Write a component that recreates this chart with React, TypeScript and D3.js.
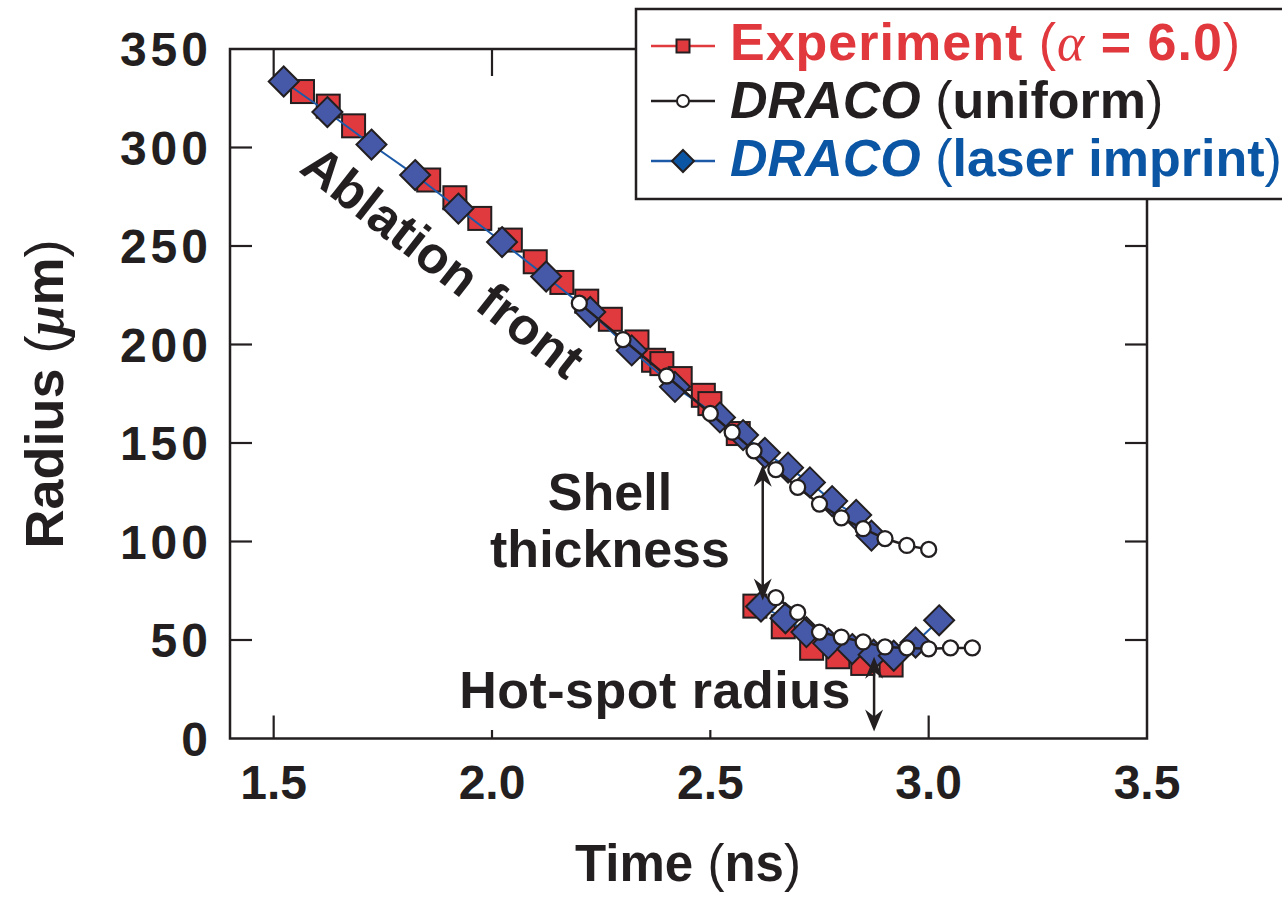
import React from 'react';
import * as d3 from 'd3';

type Pt = [number, number];

// Experiment (alpha = 6.0): ablation-front and hot-spot radii, [time ns, radius um]
const expAblation: Pt[] = [
  [1.566, 328.4], [1.625, 321], [1.683, 311], [1.855, 283.5], [1.915, 274.5],
  [1.972, 264], [2.042, 253], [2.099, 242], [2.16, 231.5], [2.217, 222],
  [2.271, 212.8], [2.332, 201.3], [2.37, 192], [2.389, 190.3], [2.431, 182.7],
  [2.484, 174.2], [2.499, 170], [2.564, 154.8],
];
const expHotSpot: Pt[] = [
  [2.602, 67.2], [2.667, 56.7], [2.732, 45.8], [2.792, 41.5], [2.849, 38.1], [2.914, 37.3],
];

// DRACO uniform
const uniformAblation: Pt[] = [
  [2.2, 221], [2.3, 202.5], [2.4, 184], [2.5, 165], [2.55, 155.5], [2.6, 146],
  [2.65, 136.5], [2.7, 127.5], [2.75, 119], [2.8, 112], [2.85, 106.5], [2.9, 101.5],
  [2.95, 98], [3.0, 96],
];
const uniformHotSpot: Pt[] = [
  [2.65, 71.5], [2.7, 64], [2.75, 54], [2.8, 51.5], [2.85, 49], [2.9, 46.5],
  [2.95, 46], [3.0, 45.5], [3.05, 46], [3.1, 46],
];

// DRACO laser imprint
const imprintAblation: Pt[] = [
  [1.523, 333.5], [1.623, 318], [1.724, 301.5], [1.824, 286], [1.923, 269],
  [2.023, 252], [2.124, 234.5], [2.225, 216.5], [2.32, 197], [2.419, 178.5],
  [2.522, 163], [2.575, 154], [2.625, 145], [2.678, 137.5], [2.728, 130],
  [2.779, 120.5], [2.834, 113.5], [2.869, 103],
];
const imprintHotSpot: Pt[] = [
  [2.616, 67], [2.672, 61], [2.72, 54], [2.77, 48.3], [2.825, 45.4],
  [2.874, 42.5], [2.92, 42], [2.97, 48.7], [3.024, 60],
];

const xTicks = [1.5, 2.0, 2.5, 3.0, 3.5];
const yTicks = [0, 50, 100, 150, 200, 250, 300, 350];

const FONT = "'Liberation Sans', Arial, Helvetica, sans-serif";
const SERIF = "'Liberation Serif', 'Times New Roman', serif";
const INK = '#231f20';
const RED = '#e03a3f';
const RED_TEXT = '#e0383d';
const BLUE_FILL = '#4659a8';
const BLUE_LINE = '#1c5aa8';
const BLUE_TEXT = '#0b56a4';

const diamondPath = (s: number) => `M0,${-s}L${s},0L0,${s}L${-s},0Z`;

function ArrowHead({ cx, tip, dir }: { cx: number; tip: number; dir: 1 | -1 }) {
  // dir = 1 points up (tip above the base), -1 points down
  const b = tip + dir * 22;
  const n = tip + dir * 15;
  return <path d={`M${cx},${tip}L${cx + 9},${b}L${cx},${n}L${cx - 9},${b}Z`} fill={INK} />;
}

function DoubleArrow({ cx, top, bottom }: { cx: number; top: number; bottom: number }) {
  return (
    <g>
      <line x1={cx} x2={cx} y1={top + 10} y2={bottom - 10} stroke={INK} strokeWidth={2.5} />
      <ArrowHead cx={cx} tip={top} dir={1} />
      <ArrowHead cx={cx} tip={bottom} dir={-1} />
    </g>
  );
}

export default function App() {
  const W = 1282;
  const H = 899;
  const x = d3.scaleLinear().domain([1.4, 3.5]).range([230, 1147]);
  const y = d3.scaleLinear().domain([0, 350]).range([738.5, 49]);
  const line = d3.line<Pt>().x((d) => x(d[0])).y((d) => y(d[1]));

  const [x0, x1] = x.range();
  const [yb, yt] = y.range();

  const squares = (data: Pt[], key: string) =>
    data.map((d, i) => (
      <rect key={`${key}${i}`} x={x(d[0]) - 11.5} y={y(d[1]) - 11.5} width={23} height={23}
        fill={RED} stroke={INK} strokeWidth={2} />
    ));
  const diamonds = (data: Pt[], key: string) =>
    data.map((d, i) => (
      <path key={`${key}${i}`} d={diamondPath(15)} transform={`translate(${x(d[0])},${y(d[1])})`}
        fill={BLUE_FILL} stroke={INK} strokeWidth={2} />
    ));
  const circles = (data: Pt[], key: string) =>
    data.map((d, i) => (
      <circle key={`${key}${i}`} cx={x(d[0])} cy={y(d[1])} r={7.5}
        fill="#fff" stroke={INK} strokeWidth={2.3} />
    ));

  const innerTicksY = yTicks.filter((v) => v > 0 && v < 350);
  const innerTicksX = xTicks.filter((v) => v < 3.5);

  // Legend geometry
  const lgX = 636;
  const lgLine = [651, 715];
  const lgMark = 683;
  const lgText = 730;
  const rows = [60, 118, 176];

  return (
    <svg width={W} height={H} viewBox={`0 0 ${W} ${H}`}
      style={{ position: 'absolute', left: 0, top: 0, overflow: 'hidden', background: '#fff' }}
      fontFamily={FONT} fontWeight="bold">
      <rect x={0} y={0} width={W} height={H} fill="#fff" />

      {/* ticks (inside) */}
      <g stroke={INK} strokeWidth={2.2}>
        {innerTicksY.map((v) => (
          <g key={`yt${v}`}>
            <line x1={x0} x2={x0 + 22} y1={y(v)} y2={y(v)} />
            <line x1={x1} x2={x1 - 22} y1={y(v)} y2={y(v)} />
          </g>
        ))}
        {innerTicksX.map((v) => (
          <g key={`xt${v}`}>
            <line x1={x(v)} x2={x(v)} y1={yb} y2={yb - 23} />
            <line x1={x(v)} x2={x(v)} y1={yt} y2={yt + 27} />
          </g>
        ))}
      </g>

      {/* frame */}
      <rect x={x0} y={yt} width={x1 - x0} height={yb - yt} fill="none" stroke={INK} strokeWidth={2.5} />

      {/* tick labels */}
      <g fontSize={48} fill={INK}>
        {yTicks.map((v) => (
          <text key={`yl${v}`} x={212} y={y(v) + 17} textAnchor="end" letterSpacing={4}>{v}</text>
        ))}
        {xTicks.map((v) => (
          <text key={`xl${v}`} x={x(v)} y={799} textAnchor="middle">{v.toFixed(1)}</text>
        ))}
      </g>

      {/* axis titles */}
      <text x={688} y={881} fontSize={51} textAnchor="middle" fill={INK}>
        Time <tspan fontWeight="normal">(</tspan>ns<tspan fontWeight="normal">)</tspan>
      </text>
      <text transform="translate(63,394) rotate(-90)" fontSize={54} textAnchor="middle" fill={INK}>
        Radius <tspan fontWeight="normal">(</tspan>
        <tspan fontFamily={SERIF} fontStyle="italic" fontWeight="bold">μ</tspan>m
        <tspan fontWeight="normal">)</tspan>
      </text>

      {/* annotations */}
      <text transform="translate(432,276) rotate(38)" fontSize={52} textAnchor="middle" fill={INK}>
        Ablation front
      </text>
      <text x={610} y={510} fontSize={52} textAnchor="middle" fill={INK}>Shell</text>
      <text x={610} y={567} fontSize={52} textAnchor="middle" fill={INK}>thickness</text>
      <rect x={456} y={700} width={396} height={30} fill="#fff" />
      <text x={655} y={708} fontSize={52} textAnchor="middle" fill={INK} letterSpacing={0.5}>Hot-spot radius</text>

      {/* experiment */}
      {squares(expAblation, 'ea')}
      {squares(expHotSpot, 'eh')}

      {/* DRACO laser imprint */}
      <path d={line(imprintAblation) ?? ''} fill="none" stroke={BLUE_LINE} strokeWidth={2} />
      <path d={line(imprintHotSpot) ?? ''} fill="none" stroke={BLUE_LINE} strokeWidth={2} />
      {diamonds(imprintAblation, 'ia')}
      {diamonds(imprintHotSpot, 'ih')}

      {/* DRACO uniform */}
      <path d={line(uniformAblation) ?? ''} fill="none" stroke={INK} strokeWidth={2.5} />
      <path d={line(uniformHotSpot) ?? ''} fill="none" stroke={INK} strokeWidth={2.5} />
      {circles(uniformAblation, 'ua')}
      {circles(uniformHotSpot, 'uh')}

      {/* measurement arrows */}
      <DoubleArrow cx={x(2.62)} top={y(139)} bottom={y(70)} />
      <DoubleArrow cx={x(2.875)} top={y(41.5)} bottom={y(3.5)} />

      {/* legend */}
      <g>
        <rect x={lgX} y={9} width={700} height={190} fill="#fff" stroke={INK} strokeWidth={2.5} />
        <line x1={lgLine[0]} x2={lgLine[1]} y1={46} y2={46} stroke={RED} strokeWidth={2.5} />
        <rect x={lgMark - 6.5} y={46 - 6.5} width={13} height={13} fill={RED} stroke={INK} strokeWidth={2} />
        <line x1={lgLine[0]} x2={lgLine[1]} y1={101} y2={101} stroke={INK} strokeWidth={2.5} />
        <circle cx={lgMark} cy={101} r={6} fill="#fff" stroke={INK} strokeWidth={2} />
        <line x1={lgLine[0]} x2={lgLine[1]} y1={161} y2={161} stroke={BLUE_LINE} strokeWidth={2.5} />
        <path d={diamondPath(11)} transform={`translate(${lgMark},161)`} fill={BLUE_TEXT} stroke={INK} strokeWidth={2} />

        <text x={lgText} y={rows[0]} fontSize={52} fill={RED_TEXT} letterSpacing={1}>
          Experiment <tspan fontWeight="normal">(</tspan>
          <tspan fontFamily={SERIF} fontStyle="italic" fontWeight="normal">α</tspan>
          <tspan> = 6.0</tspan>
          <tspan fontWeight="normal">)</tspan>
        </text>
        <text x={lgText} y={rows[1]} fontSize={52} fill={INK}>
          <tspan fontStyle="italic">DRACO</tspan> <tspan fontWeight="normal">(</tspan>uniform
          <tspan fontWeight="normal">)</tspan>
        </text>
        <text x={lgText} y={rows[2]} fontSize={52} fill={BLUE_TEXT}>
          <tspan fontStyle="italic">DRACO</tspan> <tspan fontWeight="normal">(</tspan>laser imprint
          <tspan fontWeight="normal">)</tspan>
        </text>
      </g>
    </svg>
  );
}
